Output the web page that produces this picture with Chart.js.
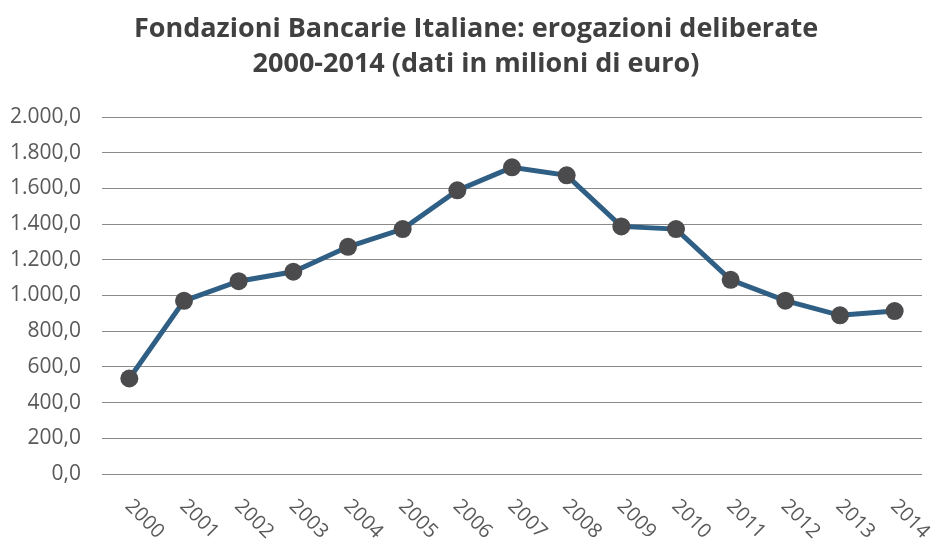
<!DOCTYPE html>
<html>
<head>
<meta charset="utf-8">
<script src="https://cdn.jsdelivr.net/npm/chart.js@4"></script>
<style>
  html, body { margin: 0; padding: 0; background: #fff; }
  #wrap { width: 931px; height: 541px; }
</style>
</head>
<body>
<div id="wrap"><canvas id="chart" width="931" height="541"></canvas></div>
<script>
// ── Data ──────────────────────────────────────────────────────────────────────
const years = ['2000', '2001', '2002', '2003', '2004', '2005', '2006', '2007',
               '2008', '2009', '2010', '2011', '2012', '2013', '2014'];
const erogazioni = [535, 970, 1080, 1133, 1273, 1372, 1589, 1718,
                    1673, 1387, 1372, 1088, 971, 889, 913];
const titleLines = ['Fondazioni Bancarie Italiane: erogazioni deliberate',
                    '2000-2014 (dati in milioni di euro)'];

const FONT = "'Open Sans', sans-serif";
const TICK_COLOR = '#595959';

// Italian number format: 2.000,0
function fmtIt(v) {
  const s = Math.round(v).toString().replace(/\B(?=(\d{3})+(?!\d))/g, '.');
  return s + ',0';
}

// Two-line title, centred on the whole picture rather than the chart box
const centredTitle = {
  id: 'centredTitle',
  afterDraw(chart) {
    const { ctx } = chart;
    ctx.save();
    ctx.font = `bold 27px ${FONT}`;
    ctx.fillStyle = '#404040';
    ctx.textAlign = 'center';
    ctx.textBaseline = 'alphabetic';
    titleLines.forEach((line, i) => ctx.fillText(line, 476, 37 + i * 35));
    ctx.restore();
  },
};

// Category labels rotated clockwise (reading downward), drawn by hand
const slantedLabels = {
  id: 'slantedLabels',
  afterDraw(chart) {
    const { ctx, scales: { x } } = chart;
    ctx.save();
    ctx.font = `20px ${FONT}`;
    ctx.fillStyle = TICK_COLOR;
    ctx.textAlign = 'left';
    ctx.textBaseline = 'middle';
    years.forEach((label, i) => {
      ctx.save();
      ctx.translate(x.getPixelForValue(i) - 1, x.top + 29);
      ctx.rotate(Math.PI / 4);
      ctx.fillText(label, 0, 0);
      ctx.restore();
    });
    ctx.restore();
  },
};

new Chart(document.getElementById('chart').getContext('2d'), {
  type: 'line',
  data: {
    labels: years,
    datasets: [{
      label: 'Erogazioni',
      data: erogazioni,
      borderColor: '#2f5f84',
      borderWidth: 5,
      pointRadius: 9,
      pointBackgroundColor: '#4b4b4d',
      pointBorderWidth: 0,
      tension: 0,
    }],
  },
  options: {
    responsive: false,
    animation: false,
    layout: { padding: { left: 0, right: 9, top: 117, bottom: 0 } },
    plugins: {
      legend: { display: false },
      tooltip: { enabled: false },
      title: { display: false },
    },
    scales: {
      x: {
        offset: true,
        grid: { display: false },
        border: { display: false },
        ticks: { display: false },
        afterFit(scale) { scale.height = 67; },
      },
      y: {
        min: 0,
        max: 2000,
        grid: { color: '#8a8a8a', lineWidth: 1, drawTicks: false },
        border: { display: false },
        ticks: {
          stepSize: 200,
          padding: 21,
          color: TICK_COLOR,
          font: { family: FONT, size: 21 },
          callback: v => fmtIt(v),
        },
        afterFit(scale) { scale.width = 102; },
      },
    },
  },
  plugins: [centredTitle, slantedLabels],
});
</script>
</body>
</html>
